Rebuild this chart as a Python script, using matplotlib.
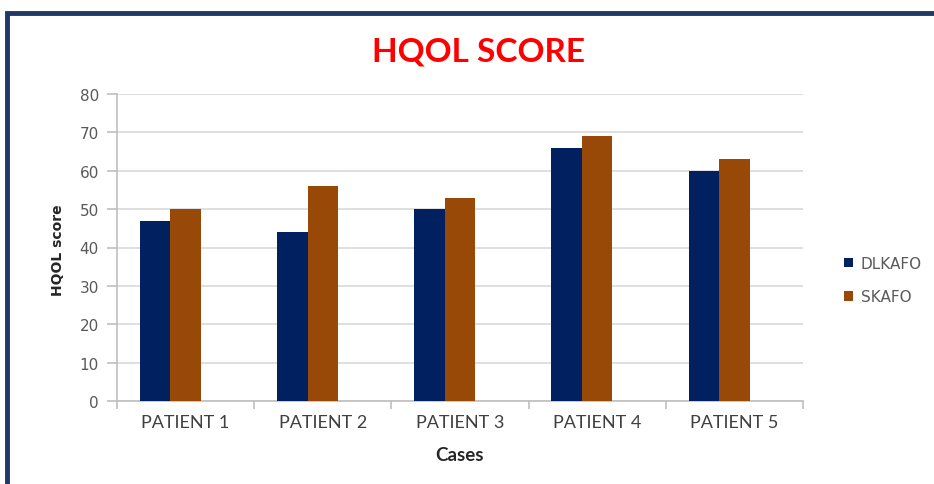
import numpy as np
import matplotlib.pyplot as plt
from matplotlib.patches import Rectangle

cases = ['PATIENT 1', 'PATIENT 2', 'PATIENT 3', 'PATIENT 4', 'PATIENT 5']
dlkafo = [47, 44, 50, 66, 60]
skafo = [50, 56, 53, 69, 63]
y_ticks = [0, 10, 20, 30, 40, 50, 60, 70, 80]

navy = '#002060'
brown = '#984807'
grey_txt = '#595959'
grid_col = '#D9D9D9'

fig = plt.figure(figsize=(9.34, 4.85), dpi=100)
ax = fig.add_axes([117 / 934, 1 - 402 / 485, 686 / 934, 307 / 485])

# frame around the chart (runs off the right and bottom edges)
fig.patches.append(Rectangle((7 / 934, -0.1), 1.2, 1 - 14 / 485 + 0.1,
                             transform=fig.transFigure, fill=False,
                             edgecolor='#1F3864', linewidth=3.5, zorder=0))

x = np.arange(len(cases))
w = 0.223
# excel layout: three series slots per category, the third one empty
ax.bar(x - w, dlkafo, w, color=navy, label='DLKAFO', zorder=3)
ax.bar(x, skafo, w, color=brown, label='SKAFO', zorder=3)

ax.set_xlim(-0.5, len(cases) - 0.5)
ax.set_ylim(0, 80)
ax.set_yticks(y_ticks)
ax.yaxis.grid(True, color=grid_col, linewidth=1.2, zorder=0)
ax.set_axisbelow(True)

for side in ['top', 'right']:
    ax.spines[side].set_visible(False)
for side in ['left', 'bottom']:
    ax.spines[side].set_color('#BFBFBF')
    ax.spines[side].set_linewidth(1.2)

ax.set_xticks(x)
ax.set_xticklabels(cases, fontfamily='Lato', fontsize=13, color='#404040')
ax.set_xticks(np.arange(len(cases) + 1) - 0.5, minor=True)
ax.tick_params(axis='x', which='major', length=0, pad=9)
ax.tick_params(axis='x', which='minor', length=6, color='#BFBFBF', width=1.2)
ax.tick_params(axis='y', length=7, color='#BFBFBF', width=1.2, pad=6,
               labelsize=11, labelcolor=grey_txt)

fig.text(0.512, 0.893, 'HQOL SCORE', ha='center', va='center', color='#FF0000',
         fontsize=24, fontweight='bold', fontfamily='Lato')
fig.text(58 / 934, 0.485, 'HQOL score', rotation=90, ha='center', va='center',
         fontsize=10, fontweight='bold', color='#262626')
fig.text(459 / 934, 1 - 456 / 485, 'Cases', ha='center', va='center',
         fontsize=13.5, fontweight='bold', fontfamily='Lato', color='#262626')

leg = ax.legend(loc='center left', bbox_to_anchor=(830 / 934, 1 - 281 / 485),
                bbox_transform=fig.transFigure, frameon=False, fontsize=11,
                handlelength=0.6, handleheight=0.6, handletextpad=0.5,
                labelspacing=1.2)
for t in leg.get_texts():
    t.set_color(grey_txt)

plt.savefig('out.png', dpi=100)
